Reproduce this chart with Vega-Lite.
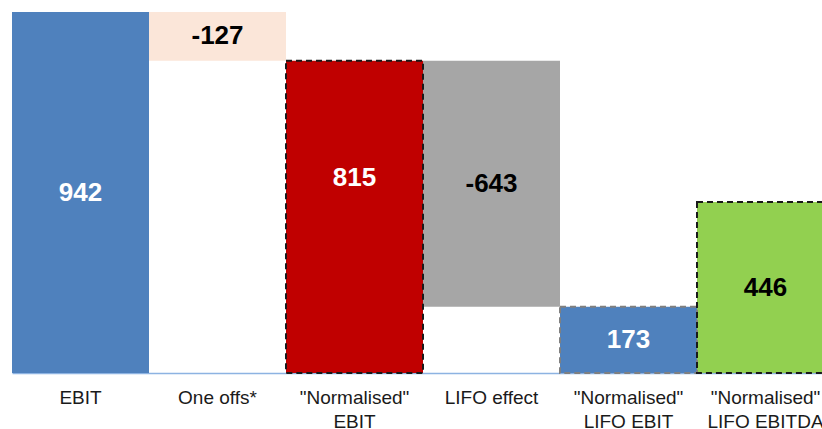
{
  "$schema": "https://vega.github.io/schema/vega-lite/v6.json",
  "width": 822,
  "height": 361,
  "autosize": "none",
  "padding": {"left": 12, "top": 12, "right": 0, "bottom": 56},
  "background": "white",
  "config": {
    "view": {"stroke": null},
    "font": "Liberation Sans"
  },
  "data": {
    "values": [
      {"step": "EBIT", "lo": 0, "hi": 942, "part": "EBIT", "value": 942},
      {"step": "One offs*", "lo": 815, "hi": 942, "part": "One offs", "value": -127},
      {"step": "\"Normalised\"\nEBIT", "lo": 0, "hi": 815, "part": "Normalised EBIT", "value": 815},
      {"step": "LIFO effect", "lo": 173, "hi": 815, "part": "LIFO effect", "value": -643},
      {"step": "\"Normalised\"\nLIFO EBIT", "lo": 0, "hi": 173, "part": "Normalised LIFO EBIT", "value": 173},
      {"step": "\"Normalised\"\nLIFO EBITDA", "lo": 0, "hi": 446, "part": "Normalised LIFO EBITDA", "value": 446}
    ]
  },
  "encoding": {
    "x": {
      "field": "step",
      "type": "nominal",
      "sort": null,
      "scale": {"paddingInner": 0, "paddingOuter": 0},
      "axis": {
        "title": null,
        "labelAngle": 0,
        "labelExpr": "split(datum.value, '\\n')",
        "labelFont": "Liberation Sans",
        "labelFontSize": 19,
        "labelColor": "#1a1a1a",
        "labelPadding": 15,
        "labelLineHeight": 24,
        "labelBaseline": "top",
        "ticks": false,
        "domainColor": "#8db3e2",
        "domainWidth": 1.5
      }
    },
    "y": {
      "field": "lo",
      "type": "quantitative",
      "scale": {"domain": [0, 942], "nice": false, "zero": true},
      "axis": null
    }
  },
  "layer": [
    {
      "mark": {"type": "bar"},
      "encoding": {
        "y2": {"field": "hi"},
        "color": {
          "field": "part",
          "type": "nominal",
          "legend": null,
          "scale": {
            "domain": ["EBIT", "One offs", "Normalised EBIT", "LIFO effect", "Normalised LIFO EBIT", "Normalised LIFO EBITDA"],
            "range": ["#4f81bd", "#fbe6d9", "#c00000", "#a6a6a6", "#4f81bd", "#92d050"]
          }
        }
      }
    },
    {
      "transform": [{"filter": "indexof(datum.part, 'Normalised') === 0"}],
      "mark": {"type": "bar", "fill": null, "fillOpacity": 0, "strokeWidth": 2, "strokeDash": [6, 4]},
      "encoding": {
        "y2": {"field": "hi"},
        "stroke": {
          "field": "part",
          "type": "nominal",
          "legend": null,
          "scale": {
            "domain": ["Normalised EBIT", "Normalised LIFO EBIT", "Normalised LIFO EBITDA"],
            "range": ["#1a1a1a", "#808080", "#1a1a1a"]
          }
        }
      }
    },
    {
      "transform": [
        {"filter": "datum.part !== 'Normalised EBIT'"},
        {"calculate": "(datum.lo + datum.hi) / 2", "as": "mid"}
      ],
      "mark": {"type": "text", "fontSize": 26, "fontWeight": "bold", "font": "Liberation Sans"},
      "encoding": {
        "y": {"field": "mid", "type": "quantitative"},
        "text": {"field": "value", "type": "nominal"},
        "fill": {
          "field": "part",
          "type": "nominal",
          "legend": null,
          "scale": {
            "domain": ["EBIT", "One offs", "LIFO effect", "Normalised LIFO EBIT", "Normalised LIFO EBITDA"],
            "range": ["white", "black", "black", "white", "black"]
          }
        }
      }
    },
    {
      "transform": [
        {"filter": "datum.part === 'Normalised EBIT'"},
        {"calculate": "(datum.lo + datum.hi) / 2", "as": "mid"}
      ],
      "mark": {"type": "text", "fontSize": 26, "fontWeight": "bold", "font": "Liberation Sans", "color": "white", "dy": -39},
      "encoding": {
        "y": {"field": "mid", "type": "quantitative"},
        "text": {"field": "value", "type": "nominal"}
      }
    }
  ],
  "resolve": {"scale": {"color": "independent", "fill": "independent", "stroke": "independent"}}
}
